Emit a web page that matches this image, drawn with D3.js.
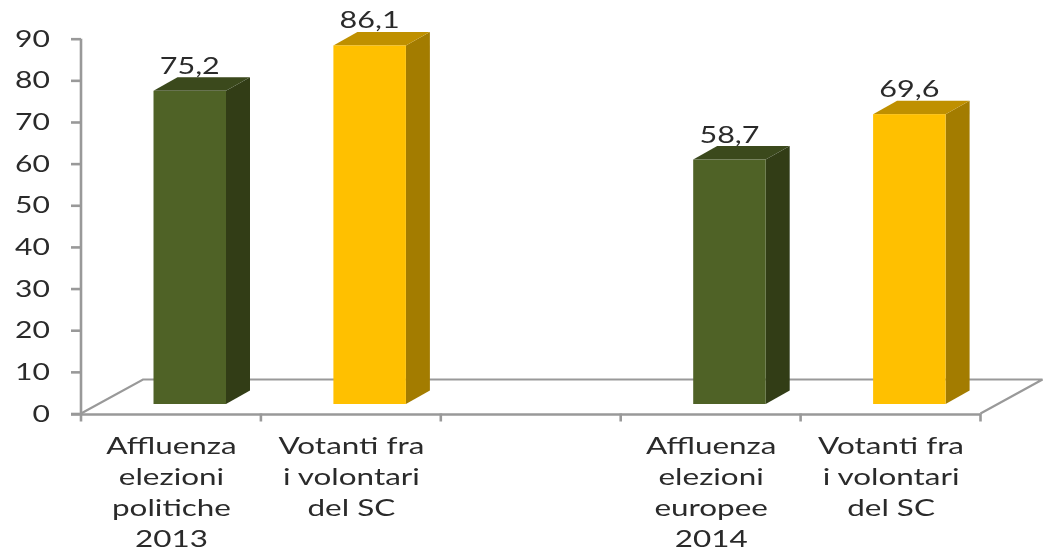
<!DOCTYPE html>
<html><head><meta charset="utf-8">
<script src="https://cdn.jsdelivr.net/npm/d3@7/dist/d3.min.js"></script>
<style>html,body{margin:0;padding:0;background:#fff}svg{display:block}
text{font-family:Lato,"Liberation Sans",sans-serif;fill:#2b2b2b}</style></head>
<body><svg id="c" width="1048" height="555"></svg>
<script>
const categories=["a1","v1","gap","a2","v2"];
const barCats=["a1","v1","a2","v2"];
const values=[75.2,86.1,58.7,69.6];
const valueLabels=["75,2","86,1","58,7","69,6"];
const kinds=["green","gold","green","gold"];
const catLabels=[["Affluenza","elezioni","politiche","2013"],["Votanti fra","i volontari","del SC"],[],["Affluenza","elezioni","europee","2014"],["Votanti fra","i volontari","del SC"]];
const yTicks=[0,10,20,30,40,50,60,70,80,90];
const palette={green:{front:"#4f6228",top:"#3b491e",side:"#313d19"},gold:{front:"#ffc000",top:"#bf9000",side:"#a37b00"}};
const svg=d3.select("#c");
const defs=svg.append("defs");
defs.append("filter").attr("id","soft").attr("x","-5%").attr("y","-5%").attr("width","110%").attr("height","110%")
  .append("feGaussianBlur").attr("stdDeviation",0.55);
const g=svg.append("g").attr("filter","url(#soft)");
const y=d3.scaleLinear().domain([0,90]).range([413.5,38.7]);
const x=d3.scaleBand().domain(categories).range([81,980.5]);
const depth={dx:62,dy:-34};
const barDepth={dx:24,dy:-13.5};
const barW=72.5, barOffset=72.5, baseShift=-9.5;
const axisCol="#999999";
const x0=x.range()[0],x1=x.range()[1],y0=y(0);
g.append("path").attr("d",`M${x0},${y0}L${x0+depth.dx},${y0+depth.dy}L${x1+depth.dx},${y0+depth.dy}L${x1},${y0}`)
 .attr("fill","none").attr("stroke",axisCol).attr("stroke-width",2.2);
const yAx=d3.axisLeft(y).tickValues(yTicks).tickSize(10).tickPadding(0).tickFormat(d3.format("d"));
const ya=g.append("g").attr("transform",`translate(${x0},0)`).call(yAx);
ya.selectAll("path,line").attr("stroke",axisCol).attr("stroke-width",2.6);
ya.select(".domain").attr("d",`M0,${y(90)}V${y(0)}`);
ya.selectAll(".tick text").remove();
g.selectAll(".ylab").data(yTicks).join("text").attr("class","ylab")
 .attr("text-anchor","end").attr("font-size",23.5)
 .attr("transform",d=>`translate(50,${y(d)+8}) scale(1.28,1)`).text(d=>d);
const xa=g.append("g");
xa.append("line").attr("x1",x0-10).attr("x2",x1).attr("y1",y0+1).attr("y2",y0+1).attr("stroke",axisCol).attr("stroke-width",2.6);
const xTickPos=categories.map(c=>x(c)+x.bandwidth()).concat([x0]);
xa.selectAll(".xt").data(xTickPos).join("line").attr("x1",d=>d).attr("x2",d=>d).attr("y1",y0).attr("y2",y0+8).attr("stroke",axisCol).attr("stroke-width",2.6);
const b=g.selectAll(".bar").data(barCats.map((c,i)=>({c,v:values[i],l:valueLabels[i],k:palette[kinds[i]]}))).join("g").attr("class","bar");
const bx=d=>x(d.c)+barOffset;
const by=d=>y(d.v)+baseShift;
const base=y(0)+baseShift;
b.append("path").attr("fill",d=>d.k.side).attr("d",d=>`M${bx(d)+barW},${by(d)}l${barDepth.dx},${barDepth.dy}V${base+barDepth.dy}l${-barDepth.dx},${-barDepth.dy}Z`);
b.append("path").attr("fill",d=>d.k.top).attr("d",d=>`M${bx(d)},${by(d)}l${barDepth.dx},${barDepth.dy}h${barW}l${-barDepth.dx},${-barDepth.dy}Z`);
b.append("rect").attr("fill",d=>d.k.front).attr("x",bx).attr("y",by).attr("width",barW).attr("height",d=>base-by(d));
b.append("text").attr("text-anchor","middle").attr("font-size",23.5)
 .attr("transform",d=>`translate(${bx(d)+barW/2},${by(d)-17}) scale(1.3,1)`).text(d=>d.l);
categories.forEach((c,i)=>{
 catLabels[i].forEach((t,j)=>{
  g.append("text").attr("text-anchor","middle").attr("font-size",24)
   .attr("transform",`translate(${x(c)+x.bandwidth()/2+0.5},${454+j*31}) scale(1.31,1)`).text(t);
 });
});
</script></body></html>
